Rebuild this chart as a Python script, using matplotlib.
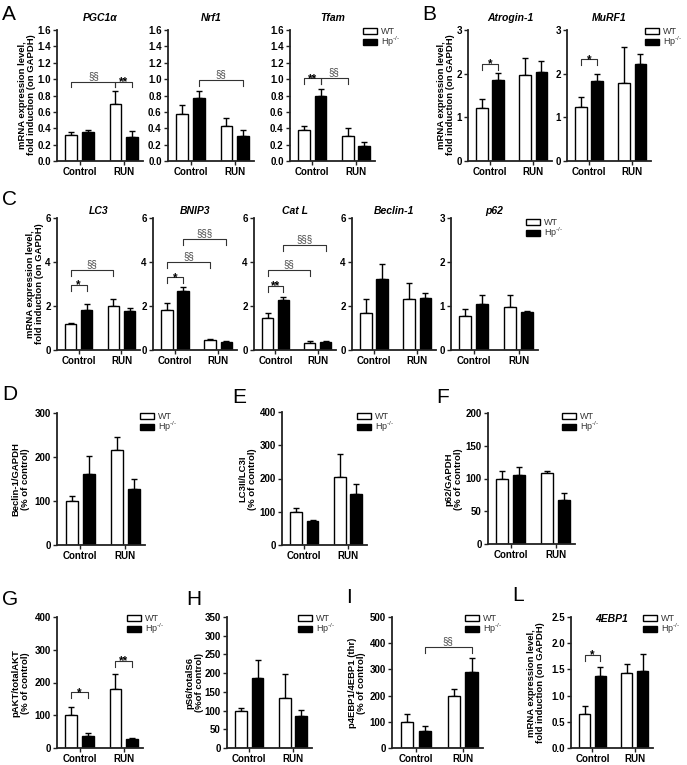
import matplotlib
matplotlib.use("Agg")
import matplotlib.pyplot as plt
from matplotlib.patches import Patch
import numpy as np

plt.rcParams['font.family'] = ['Liberation Sans', 'DejaVu Sans']
plt.rcParams['mathtext.fontset'] = 'custom'
plt.rcParams['mathtext.rm'] = 'Liberation Sans'

W, H = 687, 765

groups = ["Control", "RUN"]
genotypes = ["WT", "Hp$^{\\mathrm{\u2010/\u2010}}$"]
mrna_label = "mRNA expression level,\nfold induction (on GAPDH)"

# order of every series: Control-WT, Control-Hp, RUN-WT, RUN-Hp
pgc1a = [0.32, 0.35, 0.70, 0.29]
pgc1a_err = [0.03, 0.03, 0.15, 0.08]
nrf1 = [0.58, 0.77, 0.43, 0.31]
nrf1_err = [0.11, 0.08, 0.09, 0.07]
tfam = [0.38, 0.80, 0.31, 0.18]
tfam_err = [0.05, 0.08, 0.09, 0.05]
atrogin = [1.22, 1.85, 1.97, 2.03]
atrogin_err = [0.19, 0.16, 0.38, 0.25]
murf1 = [1.24, 1.83, 1.79, 2.22]
murf1_err = [0.23, 0.16, 0.83, 0.23]
lc3 = [1.16, 1.83, 2.01, 1.77]
lc3_err = [0.05, 0.25, 0.30, 0.16]
bnip3 = [1.81, 2.68, 0.44, 0.37]
bnip3_err = [0.32, 0.20, 0.04, 0.02]
catl = [1.46, 2.27, 0.33, 0.37]
catl_err = [0.22, 0.13, 0.09, 0.02]
beclin = [1.66, 3.21, 2.31, 2.38]
beclin_err = [0.64, 0.70, 0.75, 0.22]
p62 = [0.77, 1.05, 0.98, 0.86]
p62_err = [0.17, 0.20, 0.26, 0.02]
beclin_prot = [100, 161, 215, 128]
beclin_prot_err = [12, 42, 30, 21]
lc3_ratio = [100, 72, 204, 154]
lc3_ratio_err = [12, 3, 70, 29]
p62_prot = [100, 106, 108, 67]
p62_prot_err = [11, 11, 4, 11]
pakt = [100, 38, 181, 28]
pakt_err = [25, 9, 45, 2]
ps6 = [100, 186, 134, 86]
ps6_err = [7, 50, 63, 16]
p4ebp1 = [100, 65, 198, 290]
p4ebp1_err = [28, 18, 28, 52]
ebp1_mrna = [0.65, 1.38, 1.43, 1.47]
ebp1_mrna_err = [0.16, 0.16, 0.17, 0.32]

fig = plt.figure(figsize=(W / 100, H / 100), dpi=100)
xpos = np.array([0, 1, 2.65, 3.65])


def px(x, y):
    return x / W, 1 - y / H


def bar_panel(rect, mean, err, ymax, ticks, fmt, title=None, title_y=None,
              brackets=()):
    l, t, r, b = rect
    ax = fig.add_axes([l / W, 1 - b / H, (r - l) / W, (b - t) / H])
    ax.errorbar(xpos, mean, yerr=[np.zeros(4), err], fmt='none', ecolor='black',
                elinewidth=1.0, capsize=2.5, capthick=1.0, zorder=1)
    ax.bar(xpos, mean, width=0.7, color=['white', 'black', 'white', 'black'],
           edgecolor='black', linewidth=1.0, zorder=2)
    ax.set_xlim(-0.85, 4.3)
    ax.set_ylim(0, ymax)
    for s in ['top', 'right']:
        ax.spines[s].set_visible(False)
    for s in ['left', 'bottom']:
        ax.spines[s].set_linewidth(1.3)
        ax.spines[s].set_color('#222222')
    ax.set_xticks([(xpos[0] + xpos[1]) / 2, (xpos[2] + xpos[3]) / 2])
    ax.set_xticklabels(groups, fontsize=7, fontweight='bold')
    ax.set_yticks(ticks)
    ax.set_yticklabels([fmt.format(v) for v in ticks], fontsize=7, fontweight='bold')
    ax.tick_params(length=3, width=1.0, pad=1.5, color='#222222')
    if title:
        fig.text(*px((l + r) / 2, title_y), title, ha='center', va='center',
                 fontsize=7.5, fontweight='bold', fontstyle='italic')
    drop = 0.045 * ymax
    for i, j, y, lab in brackets:
        x1, x2 = xpos[i], xpos[j]
        ax.plot([x1, x1, x2, x2], [y - drop, y, y, y - drop], color='#333333',
                lw=0.8, zorder=3, clip_on=False)
        if lab.startswith('*'):
            ax.annotate(lab, ((x1 + x2) / 2, y), xytext=(0, -2.5),
                        textcoords='offset points', ha='center', va='baseline',
                        fontsize=8.5, fontweight='bold')
        else:
            ax.annotate(lab, ((x1 + x2) / 2, y), xytext=(0, 0.5),
                        textcoords='offset points', ha='center', va='bottom',
                        fontsize=7, color='#444444')
    return ax


def legend(x, y):
    handles = [Patch(facecolor='white', edgecolor='black', linewidth=1.0),
               Patch(facecolor='black', edgecolor='black', linewidth=1.0)]
    fig.legend(handles, genotypes, loc='upper left', bbox_to_anchor=px(x, y),
               frameon=False, fontsize=6.5, handlelength=1.5, handleheight=0.6,
               handletextpad=0.5, labelspacing=-0.15, borderpad=0,
               borderaxespad=0, labelcolor='#333333')


def ylab(x, yc, text):
    fig.text(*px(x, yc), text, rotation=90, ha='center', va='center',
             fontsize=6.8, fontweight='bold', linespacing=1.05)


def letter(x, y, s):
    fig.text(*px(x, y), s, ha='left', va='top', fontsize=15)


tA = [0, 0.2, 0.4, 0.6, 0.8, 1.0, 1.2, 1.4, 1.6]
# A
bar_panel((57, 30, 143, 161), pgc1a, pgc1a_err, 1.6, tA, '{:.1f}', 'PGC1α', 18,
          [(0, 2, 0.97, '§§'), (2, 3, 0.97, '**')])
bar_panel((168, 30, 254, 161), nrf1, nrf1_err, 1.6, tA, '{:.1f}', 'Nrf1', 18,
          [(1, 3, 0.99, '§§')])
bar_panel((290, 30, 375, 161), tfam, tfam_err, 1.6, tA, '{:.1f}', 'Tfam', 18,
          [(0, 1, 1.01, '**'), (1, 2, 1.01, '§§')])
legend(363, 27)
ylab(27, 95, mrna_label)
letter(2, 5, 'A')

# B
bar_panel((468, 30, 552, 161), atrogin, atrogin_err, 3, [0, 1, 2, 3], '{:d}',
          'Atrogin-1', 18, [(0, 1, 2.22, '*')])
bar_panel((567, 30, 651, 161), murf1, murf1_err, 3, [0, 1, 2, 3], '{:d}',
          'MuRF1', 18, [(0, 1, 2.33, '*')])
legend(645, 27)
ylab(446, 95, mrna_label)
letter(422, 5, 'B')

# C
tC = [0, 2, 4, 6]
bar_panel((57, 218, 140, 350), lc3, lc3_err, 6, tC, '{:d}', 'LC3', 211,
          [(0, 1, 2.95, '*'), (0, 2, 3.64, '§§')])
bar_panel((153, 218, 237, 350), bnip3, bnip3_err, 6, tC, '{:d}', 'BNIP3', 211,
          [(0, 1, 3.30, '*'), (0, 2, 3.99, '§§'), (1, 3, 5.06, '§§§')])
bar_panel((254, 218, 336, 350), catl, catl_err, 6, tC, '{:d}', 'Cat L', 211,
          [(0, 1, 2.92, '**'), (0, 2, 3.64, '§§'), (1, 3, 4.78, '§§§')])
bar_panel((352, 218, 436, 350), beclin, beclin_err, 6, tC, '{:d}', 'Beclin-1', 211)
bar_panel((451, 218, 538, 350), p62, p62_err, 3, [0, 1, 2, 3], '{:d}', 'p62', 211)
legend(526, 218)
ylab(35, 284, mrna_label)
letter(2, 190, 'C')

# D, E, F
bar_panel((57, 413, 145, 545), beclin_prot, beclin_prot_err, 300,
          [0, 100, 200, 300], '{:d}')
legend(140, 412)
ylab(21, 479, "Beclin-1/GAPDH\n(% of control)")
letter(2, 385, 'D')

bar_panel((282, 412, 367, 545), lc3_ratio, lc3_ratio_err, 400,
          [0, 100, 200, 300, 400], '{:d}')
legend(357, 412)
ylab(248, 479, "LC3II/LC3I\n(% of control)")
letter(232, 388, 'E')

bar_panel((488, 413, 575, 544), p62_prot, p62_prot_err, 200,
          [0, 50, 100, 150, 200], '{:d}')
legend(562, 412)
ylab(454, 479, "p62/GAPDH\n(% of control)")
letter(436, 388, 'F')

# G, H, I, L
bar_panel((57, 617, 143, 748), pakt, pakt_err, 400, [0, 100, 200, 300, 400], '{:d}',
          brackets=[(0, 1, 170, '*'), (2, 3, 266, '**')])
legend(127, 614)
ylab(21, 683, "pAKT/totalAKT\n(% of control)")
letter(2, 590, 'G')

bar_panel((227, 617, 312, 748), ps6, ps6_err, 350,
          [0, 50, 100, 150, 200, 250, 300, 350], '{:d}')
legend(298, 614)
ylab(195, 683, "pS6/totalS6\n(%of control)")
letter(186, 590, 'H')

bar_panel((392, 617, 483, 748), p4ebp1, p4ebp1_err, 500,
          [0, 100, 200, 300, 400, 500], '{:d}', brackets=[(1, 3, 385, '§§')])
legend(465, 614)
ylab(357, 683, "p4EBP1/4EBP1 (thr)\n(% of control)")
letter(346, 588, 'I')

bar_panel((571, 617, 653, 748), ebp1_mrna, ebp1_mrna_err, 2.5,
          [0, 0.5, 1.0, 1.5, 2.0, 2.5], '{:.1f}', '4EBP1', 619,
          [(0, 1, 1.78, '*')])
legend(643, 614)
ylab(536, 683, mrna_label)
letter(512, 586, 'L')

fig.savefig('out.png', dpi=100, facecolor='white')
